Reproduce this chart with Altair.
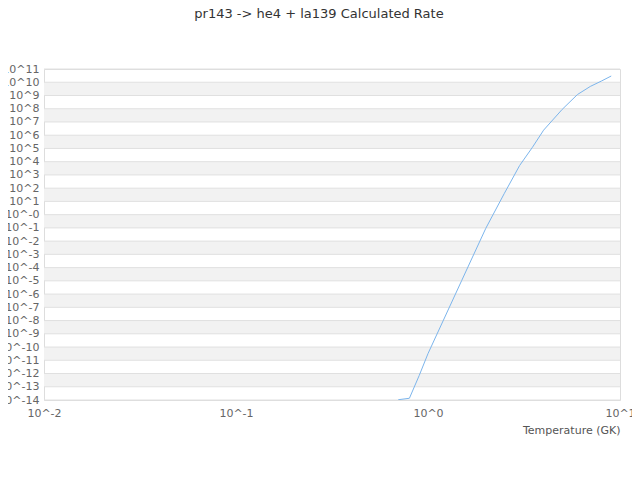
import altair as alt
import pandas as pd

# ---- data ----
temperature_gk = [0.7, 0.8, 0.9, 1.0, 1.5, 2.0, 2.5, 3.0, 3.5, 4.0, 5.0, 6.0, 7.0, 8.0, 9.0]
rate = [1.05e-14, 1.35e-14, 7.1e-13, 3.2e-11, 1.1e-5, 9.3e-2, 41.0, 5.1e3, 1.23e5,
        2.4e6, 8.9e7, 1.17e9, 4.8e9, 1.23e10, 2.95e10]

y_exponents = [-14, -13, -12, -11, -10, -9, -8, -7, -6, -5, -4, -3, -2, -1, 0,
               1, 2, 3, 4, 5, 6, 7, 8, 9, 10, 11]
y_tick_labels = ["10^-14", "10^-13", "10^-12", "10^-11", "10^-10", "10^-9", "10^-8",
                 "10^-7", "10^-6", "10^-5", "10^-4", "10^-3", "10^-2", "10^-1", "10^-0",
                 "10^1", "10^2", "10^3", "10^4", "10^5", "10^6", "10^7", "10^8", "10^9",
                 "10^10", "10^11"]
x_exponents = [-2, -1, 0, 1]
x_tick_labels = ["10^-2", "10^-1", "10^0", "10^1"]
band_exponents = [-13, -11, -9, -7, -5, -3, -1, 1, 3, 5, 7, 9]

# ---- tables ----
line_df = pd.DataFrame({"T": temperature_gk, "rate": rate})
y_ticks = [10.0 ** e for e in y_exponents]
x_ticks = [10.0 ** e for e in x_exponents]
grid_df = pd.DataFrame({"v": y_ticks})
band_df = pd.DataFrame({"lo": [10.0 ** e for e in band_exponents],
                        "hi": [10.0 ** (e + 1) for e in band_exponents]})

y_scale = alt.Scale(type="log", domain=[y_ticks[0], y_ticks[-1]], nice=False)
x_scale = alt.Scale(type="log", domain=[x_ticks[0], x_ticks[-1]], nice=False)

y_label_expr = "[" + ",".join("'%s'" % s for s in y_tick_labels) + "][round(log(datum.value)/LN10)+14]"
x_label_expr = "[" + ",".join("'%s'" % s for s in x_tick_labels) + "][round(log(datum.value)/LN10)+2]"

y_axis = alt.Axis(values=y_ticks, labelExpr=y_label_expr, title=None,
                  grid=False, ticks=False, tickSize=0, domain=False,
                  labelFlush=False, labelOverlap=False, labelPadding=5,
                  labelFontSize=11, labelColor="#666666", labelFont="DejaVu Sans")

bands = alt.Chart(band_df).mark_rect(color="#f2f2f2").encode(
    y=alt.Y("lo:Q", scale=y_scale, axis=y_axis, title=None),
    y2="hi:Q",
)

grid = alt.Chart(grid_df).mark_rule(color="#e0e0e0", strokeWidth=1).encode(
    y=alt.Y("v:Q", scale=y_scale, axis=y_axis, title=None),
)

line = alt.Chart(line_df).mark_line(color="#7cb5ec", strokeWidth=1, clip=True).encode(
    x=alt.X("T:Q", scale=x_scale,
            axis=alt.Axis(values=x_ticks, labelExpr=x_label_expr, title="Temperature (GK)",
                          grid=False, ticks=False, tickSize=0, domain=False,
                          labelFlush=False, labelOverlap=False, labelPadding=7,
                          labelFontSize=11, labelColor="#666666", labelFont="DejaVu Sans",
                          titleFontSize=11, titleColor="#555555", titleFont="DejaVu Sans",
                          titleFontWeight="normal", titleAnchor="end", titlePadding=6)),
    y=alt.Y("rate:Q", scale=y_scale, axis=y_axis, title=None),
)

chart = alt.layer(bands, grid, line).properties(
    width=576,
    height=331,
    autosize="none",
    padding={"left": 36, "top": 61, "right": 12, "bottom": 40},
    title=alt.Title("pr143 -> he4 + la139 Calculated Rate", fontSize=13, font="DejaVu Sans",
                    fontWeight="normal", color="#333333", anchor="middle",
                    baseline="alphabetic", offset=32, dx=-13),
).configure_view(stroke="#cccccc", strokeWidth=1).configure(background="white")

chart.save("out.html", embed_options={"renderer": "svg", "actions": False})
